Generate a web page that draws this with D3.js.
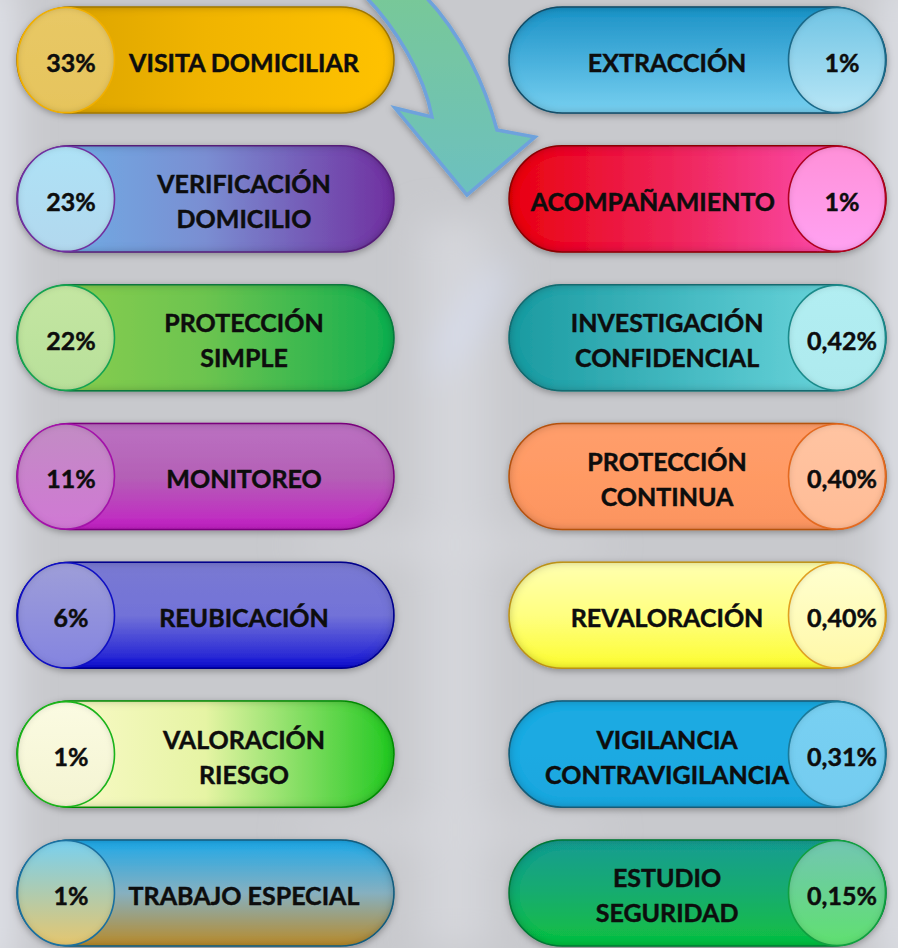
<!DOCTYPE html>
<html>
<head>
<meta charset="utf-8">
<script src="https://cdn.jsdelivr.net/npm/d3@7"></script>
<style>
  body { margin: 0; background: #c9cace; }
  svg { display: block; }
</style>
</head>
<body>
<script>
var width = 898,
    height = 948;

// values
var leftLabels = [["VISITA DOMICILIAR"], ["VERIFICACIÓN", "DOMICILIO"], ["PROTECCIÓN", "SIMPLE"],
                  ["MONITOREO"], ["REUBICACIÓN"], ["VALORACIÓN", "RIESGO"], ["TRABAJO ESPECIAL"]];
var leftValues = [33, 23, 22, 11, 6, 1, 1];

var rightLabels = [["EXTRACCIÓN"], ["ACOMPAÑAMIENTO"], ["INVESTIGACIÓN", "CONFIDENCIAL"],
                   ["PROTECCIÓN", "CONTINUA"], ["REVALORACIÓN"], ["VIGILANCIA", "CONTRAVIGILANCIA"],
                   ["ESTUDIO", "SEGURIDAD"]];
var rightValues = [1, 1, 0.42, 0.40, 0.40, 0.31, 0.15];

// colours: dir, pill stops, pill border, circle stops, circle border
var leftStyle = [
  {dir: "h", stops: ["#d6a000", "#f0b400", "#ffc200"], border: "#b98a00", circle: ["#e8c866", "#e6c45c"], cb: "#f2b000"},
  {dir: "h", stops: ["#6cb6ea", "#7a8ed2", "#7030a0"], border: "#64288c", circle: ["#aee2f6", "#b2d8ee"], cb: "#7030a0"},
  {dir: "h", stops: ["#92d050", "#6cc450", "#12ae50"], border: "#128a48", circle: ["#c4e6a2", "#b8e09a"], cb: "#14a450"},
  {dir: "v", stops: ["#bb72c2", "#b460b6", "#c222c4"], border: "#8e0e90", circle: ["#c28cc4", "#d078d4"], cb: "#a412aa"},
  {dir: "v", stops: ["#7a7ad2", "#7272d8", "#1414d4"], border: "#0000a0", circle: ["#9e9ed8", "#8484e0"], cb: "#1010c4"},
  {dir: "h", stops: ["#fffbd2", "#e6f4a4", "#22c822"], border: "#10a010", circle: ["#fbfbe2", "#f4f4d2"], cb: "#1ab41a"},
  {dir: "v", stops: ["#1ea8e8", "#86b0c0", "#b88a2a"], border: "#1a6a90", circle: ["#78d0f0", "#e6c66e"], cb: "#1a70a0"}
];
var rightStyle = [
  {dir: "v", stops: ["#1c92c6", "#48b0dc", "#78d0f0"], border: "#1a5a78", circle: ["#70c4e4", "#b8e6f6"], cb: "#1a6a8a"},
  {dir: "h", stops: ["#e80010", "#f02a64", "#ff58c4"], border: "#a00010", circle: ["#ff90d8", "#ffa2f2"], cb: "#b00020"},
  {dir: "h", stops: ["#1a9aa0", "#48bcc4", "#74dce2"], border: "#1a7a80", circle: ["#b2eef2", "#aeeaee"], cb: "#1a8a8a"},
  {dir: "v", stops: ["#ff9e6c", "#ff9a64", "#fc9460"], border: "#d06018", circle: ["#ffc4a2", "#ffbc96"], cb: "#e46a20"},
  {dir: "v", stops: ["#ffffb0", "#ffff80", "#fcfc30"], border: "#d8a820", circle: ["#ffffd0", "#fff8a8"], cb: "#e0a020"},
  {dir: "v", stops: ["#1eaae2", "#1eaae2", "#1ca6de"], border: "#1a6a8a", circle: ["#78d0f2", "#74ccf0"], cb: "#1a7a9a"},
  {dir: "v", stops: ["#1a9c92", "#16ac6e", "#10c040"], border: "#0a8a40", circle: ["#72c6b2", "#60e070"], cb: "#10a040"}
];

var fmt = function(v) {
  return v >= 1 ? v + "%" : v.toFixed(2).replace(".", ",") + "%";
};

var items = [];
leftLabels.forEach(function(l, i) {
  items.push({side: "left", row: i, lines: l, value: leftValues[i], style: leftStyle[i]});
});
rightLabels.forEach(function(l, i) {
  items.push({side: "right", row: i, lines: l, value: rightValues[i], style: rightStyle[i]});
});

var svg = d3.select("body").append("svg")
    .attr("width", width)
    .attr("height", height);

var defs = svg.append("defs");

var y = d3.scaleBand()
    .domain(d3.range(7))
    .range([7, 946])
    .paddingInner(0.236);

var x = d3.scaleBand()
    .domain(["left", "right"])
    .range([17, 886])
    .paddingInner(0.234);

// filters
var blur = defs.append("filter").attr("id", "blur")
    .attr("x", "-50%").attr("y", "-50%").attr("width", "200%").attr("height", "200%");
blur.append("feGaussianBlur").attr("stdDeviation", 18);

var shadow = defs.append("filter").attr("id", "shadow")
    .attr("x", "-10%").attr("y", "-20%").attr("width", "120%").attr("height", "150%");
shadow.append("feDropShadow").attr("dx", 0).attr("dy", 2).attr("stdDeviation", 3.5)
    .attr("flood-color", "#000").attr("flood-opacity", 0.32);

function inset(id, sd, op) {
  var f = defs.append("filter").attr("id", id);
  f.append("feFlood").attr("flood-color", "#000").attr("flood-opacity", op).attr("result", "c");
  f.append("feComposite").attr("in", "c").attr("in2", "SourceAlpha").attr("operator", "out").attr("result", "o");
  f.append("feGaussianBlur").attr("in", "o").attr("stdDeviation", sd).attr("result", "b");
  f.append("feComposite").attr("in", "b").attr("in2", "SourceAlpha").attr("operator", "in").attr("result", "s");
  var m = f.append("feMerge");
  m.append("feMergeNode").attr("in", "SourceGraphic");
  m.append("feMergeNode").attr("in", "s");
}
inset("inset", 5, 0.6);
inset("insetC", 3, 0.35);

// background
var bg = svg.append("g");
bg.append("rect").attr("width", width).attr("height", height).attr("fill", "#c8c9cd");
var glow = bg.append("g").attr("filter", "url(#blur)");
glow.append("rect").attr("x", -30).attr("y", -20).attr("width", 45).attr("height", 990).attr("fill", "#dfe1e8");
glow.append("rect").attr("x", 880).attr("y", -20).attr("width", 45).attr("height", 990).attr("fill", "#dcdee4");
glow.append("rect").attr("x", 420).attr("y", 220).attr("width", 70).attr("height", 730).attr("fill", "#d4d5da");
glow.append("ellipse").attr("cx", 470).attr("cy", 320).attr("rx", 12).attr("ry", 70)
    .attr("transform", "rotate(35,470,320)").attr("fill", "#d8def0");
glow.append("ellipse").attr("cx", 450).attr("cy", 545).attr("rx", 160).attr("ry", 10).attr("fill", "#d8d9de");
glow.append("ellipse").attr("cx", 450).attr("cy", 830).attr("rx", 160).attr("ry", 10).attr("fill", "#d6d7dc");

// arrow
var ag = defs.append("linearGradient").attr("id", "arrowGrad")
    .attr("x1", 0).attr("y1", 0).attr("x2", 0).attr("y2", 1);
ag.append("stop").attr("offset", 0).attr("stop-color", "#78c898");
ag.append("stop").attr("offset", 1).attr("stop-color", "#6cc0c0");

svg.append("path")
    .attr("d", "M365,-4 C396,28 424,74 432,117 L395,108 L467,195 L535,137 L497,130 C485,85 462,35 425,-4 Z")
    .attr("fill", "url(#arrowGrad)")
    .attr("stroke", "#6ea2dc")
    .attr("stroke-width", 3.5)
    .attr("filter", "url(#shadow)");

// gradients per pill
items.forEach(function(d, i) {
  var s = d.style;
  var g = defs.append("linearGradient").attr("id", "pg" + i)
      .attr("x1", 0).attr("y1", 0)
      .attr("x2", s.dir === "h" ? 1 : 0).attr("y2", s.dir === "h" ? 0 : 1);
  s.stops.forEach(function(c, k) {
    g.append("stop").attr("offset", k / (s.stops.length - 1)).attr("stop-color", c);
  });
  var cg = defs.append("linearGradient").attr("id", "cg" + i)
      .attr("x1", 0).attr("y1", 0).attr("x2", 0).attr("y2", 1);
  s.circle.forEach(function(c, k) {
    cg.append("stop").attr("offset", k / (s.circle.length - 1)).attr("stop-color", c);
  });
});

var w = x.bandwidth(),
    h = y.bandwidth(),
    rx = 48.5,
    fs = 25,
    capH = 0.7165 * fs,
    lineGap = 35;

var pills = svg.selectAll(".pill")
    .data(items)
    .enter()
    .append("g")
    .attr("class", "pill")
    .attr("transform", function(d) { return "translate(" + x(d.side) + "," + y(d.row) + ")"; });

pills.append("g")
    .attr("filter", "url(#shadow)")
    .append("rect")
    .attr("width", w)
    .attr("height", h)
    .attr("rx", h / 2)
    .attr("fill", function(d, i) { return "url(#pg" + i + ")"; })
    .attr("stroke", function(d) { return d.style.border; })
    .attr("stroke-width", 1.5)
    .attr("filter", "url(#inset)");

var cx = function(d) { return d.side === "left" ? rx + 0.5 : w - rx - 0.5; };

pills.append("ellipse")
    .attr("cx", cx)
    .attr("cy", h / 2)
    .attr("rx", rx)
    .attr("ry", h / 2 - 0.5)
    .attr("fill", function(d, i) { return "url(#cg" + i + ")"; })
    .attr("filter", "url(#insetC)");

pills.append("ellipse")
    .attr("cx", cx)
    .attr("cy", h / 2)
    .attr("rx", rx)
    .attr("ry", h / 2 - 0.5)
    .attr("fill", "none")
    .attr("stroke", function(d) { return d.style.cb; })
    .attr("stroke-width", 1.6);

// percentages
pills.append("text")
    .attr("x", function(d) { return cx(d) + 5; })
    .attr("y", h / 2 + 3 + capH / 2)
    .attr("text-anchor", "middle")
    .style("font-family", "Lato, 'Open Sans', sans-serif")
    .style("font-weight", 700)
    .style("font-size", fs + "px")
    .style("fill", "#0d0d0d")
    .style("stroke", "#0d0d0d")
    .style("stroke-width", 0.45)
    .text(function(d) { return fmt(d.value); });

// labels
var labels = pills.append("text")
    .attr("text-anchor", "middle")
    .style("font-family", "Lato, 'Open Sans', sans-serif")
    .style("font-weight", 700)
    .style("font-size", fs + "px")
    .style("fill", "#0d0d0d")
    .style("stroke", "#0d0d0d")
    .style("stroke-width", 0.45);

labels.selectAll("tspan")
    .data(function(d) { return d.lines.map(function(t, k) { return {t: t, k: k, n: d.lines.length}; }); })
    .enter()
    .append("tspan")
    .attr("y", function(l) { return h / 2 + 3 + capH / 2 + (l.k - (l.n - 1) / 2) * lineGap; })
    .text(function(l) { return l.t; });

labels.each(function(d) {
  var t = d3.select(this);
  var mid = d.side === "left" ? 227 : 158;
  if (d.side === "right" && d.lines.length === 1) {
    var tw = this.getComputedTextLength();
    mid = Math.min(mid, w - 2 * rx - 14 - tw / 2);
  }
  t.selectAll("tspan").attr("x", mid);
});
</script>
</body>
</html>
